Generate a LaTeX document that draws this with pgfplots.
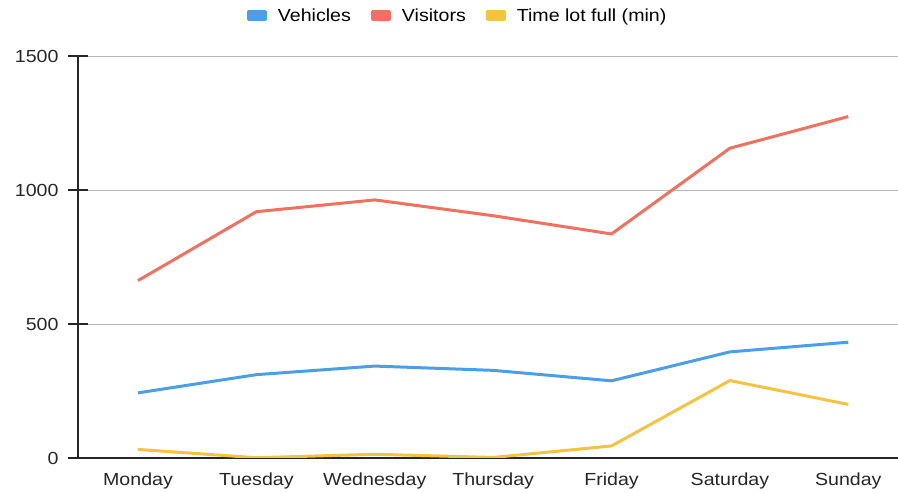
\documentclass[border=0pt]{standalone}
\usepackage{fontspec}
\setmainfont{Liberation Sans}[FakeStretch=1.12]
\usepackage{pgfplots}
\pgfplotsset{compat=1.18}
\definecolor{vehblue}{HTML}{4A9FE8}
\definecolor{visred}{HTML}{F2705F}
\definecolor{timeyel}{HTML}{F5C342}
\begin{document}
\begin{tikzpicture}
\begin{axis}[
    at={(0,0)}, anchor=south west,
    scale only axis,
    width=820pt, height=402pt,
    xmin=-0.507, xmax=6.42,
    ymin=0, ymax=1500,
    axis x line=bottom, axis y line=left,
    axis line style={-, line width=1.3pt, black!85},
    xtick={0,...,6},
    xticklabels={Monday,Tuesday,Wednesday,Thursday,Friday,Saturday,Sunday},
    xtick style={draw=none},
    ytick={0,500,1000,1500},
    ytick style={black!85, line width=1.3pt},
    tick align=center, major tick length=20pt,
    ymajorgrids, grid style={gray!55, line width=0.6pt},
    tick label style={font=\fontsize{17.5}{20}\selectfont, text=black!85},
    yticklabel style={xshift=-6pt},
    xticklabel style={yshift=-1pt},
    /pgf/number format/assume math mode=true,
    /pgf/number format/1000 sep={},
    legend style={at={(0.463,1)}, anchor=center, yshift=40pt, draw=none,
        font=\fontsize{17.5}{20}\selectfont, legend columns=-1,
        /tikz/every odd column/.append style={column sep=9pt},
        /tikz/every even column/.append style={column sep=18pt}},
    legend image code/.code={\fill[#1] (0pt,-4pt) rectangle (17pt,4pt);},
    every axis plot/.append style={line width=3pt, line join=round, no marks},
]
% Vehicles
\addplot[vehblue] coordinates {
    (0,243) (1,311) (2,343) (3,327) (4,288) (5,396) (6,432)
};
% Visitors
\addplot[visred] coordinates {
    (0,662) (1,919) (2,963) (3,904) (4,836) (5,1156) (6,1274)
};
% Time lot full (min)
\addplot[timeyel] coordinates {
    (0,32) (1,1) (2,14) (3,2) (4,45) (5,289) (6,200)
};
\legend{Vehicles, Visitors, Time lot full (min)}
\end{axis}
\pgfresetboundingbox
\path (-78pt,-35pt) rectangle (820pt,458pt);
\end{tikzpicture}
\end{document}
